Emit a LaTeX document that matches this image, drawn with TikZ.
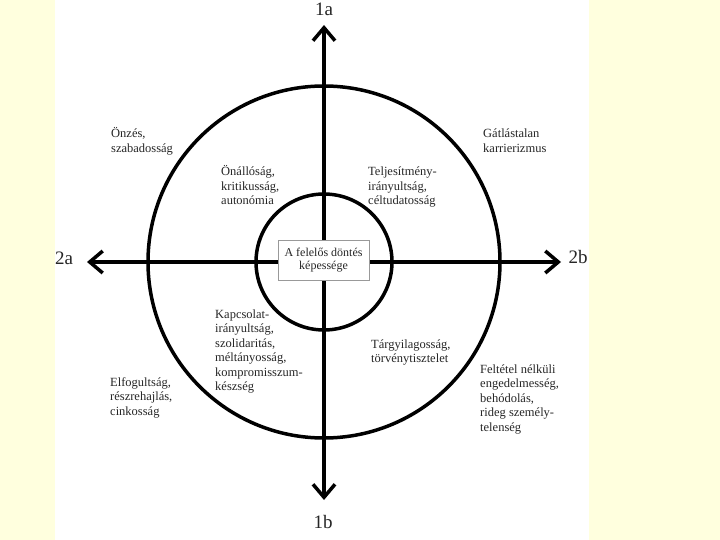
\documentclass[tikz,border=0pt]{standalone}
\usepackage{fontspec}
\setmainfont{Liberation Serif}
\usetikzlibrary{arrows.meta,positioning}
\definecolor{sidebg}{RGB}{255,255,222}

\begin{document}
\begin{tikzpicture}[
  x=1pt, y=-1pt,
  ring/.style={draw, line width=3.5pt},
  axis/.style={{Straight Barb[length=13pt,width=22pt]}-{Straight Barb[length=13pt,width=22pt]},
              line width=3.5pt},
  quad/.style={anchor=base west, align=left, inner sep=0pt, text=black!85,
              font=\fontsize{12.5}{14.5}\selectfont},
  pole/.style={inner sep=0pt, text=black!85, font=\fontsize{19}{19}\selectfont},
  core/.style={draw=black!40, line width=0.8pt, fill=white, align=center,
              minimum width=91pt, minimum height=40pt, inner sep=1pt,
              text=black!85, font=\fontsize{12}{13}\selectfont}
]
\useasboundingbox (0,0) rectangle (720,540);
\fill[sidebg] (0,0) rectangle (720,540);
\fill[white] (55,0) rectangle (589,540);

\coordinate (ctr) at (324,262);
\coordinate (tipN) at (324,25);
\coordinate (tipS) at (324,500);
\coordinate (tipW) at (87,262);
\coordinate (tipE) at (561,262);

\draw[ring] (ctr) circle[radius=176pt];
\draw[ring] (ctr) circle[radius=68pt];
\draw[axis] (tipS) -- (tipN);
\draw[axis] (tipW) -- (tipE);

\node[core] (capacity) at (323.5,260.5) {A felelős döntés\\képessége};

\node[pole] (pole1a) at (324,9) {1a};
\node[pole] (pole1b) at (323,522) {1b};
\node[pole] (pole2a) at (64,258) {2a};
\node[pole] (pole2b) at (578,257) {2b};

\node[quad] (selfish) at (111,152.5) {Önzés,\\szabadosság};
\node[quad] (autonomy) at (221,205) {Önállóság,\\kritikusság,\\autonómia};
\node[quad] (career) at (483,152.5) {Gátlástalan\\karrierizmus};
\node[quad] (achieve) at (368,205) {Teljesítmény-\\irányultság,\\céltudatosság};
\node[quad] (bond) at (215,390.5)
  {Kapcsolat-\\irányultság,\\szolidaritás,\\méltányosság,\\kompromisszum-\\készség};
\node[quad] (bias) at (110,415) {Elfogultság,\\részrehajlás,\\cinkosság};
\node[quad] (objective) at (371,362.5) {Tárgyilagosság,\\törvénytisztelet};
\node[quad] (obey) at (480,431)
  {Feltétel nélküli\\engedelmesség,\\behódolás,\\rideg személy-\\telenség};
\end{tikzpicture}
\end{document}
